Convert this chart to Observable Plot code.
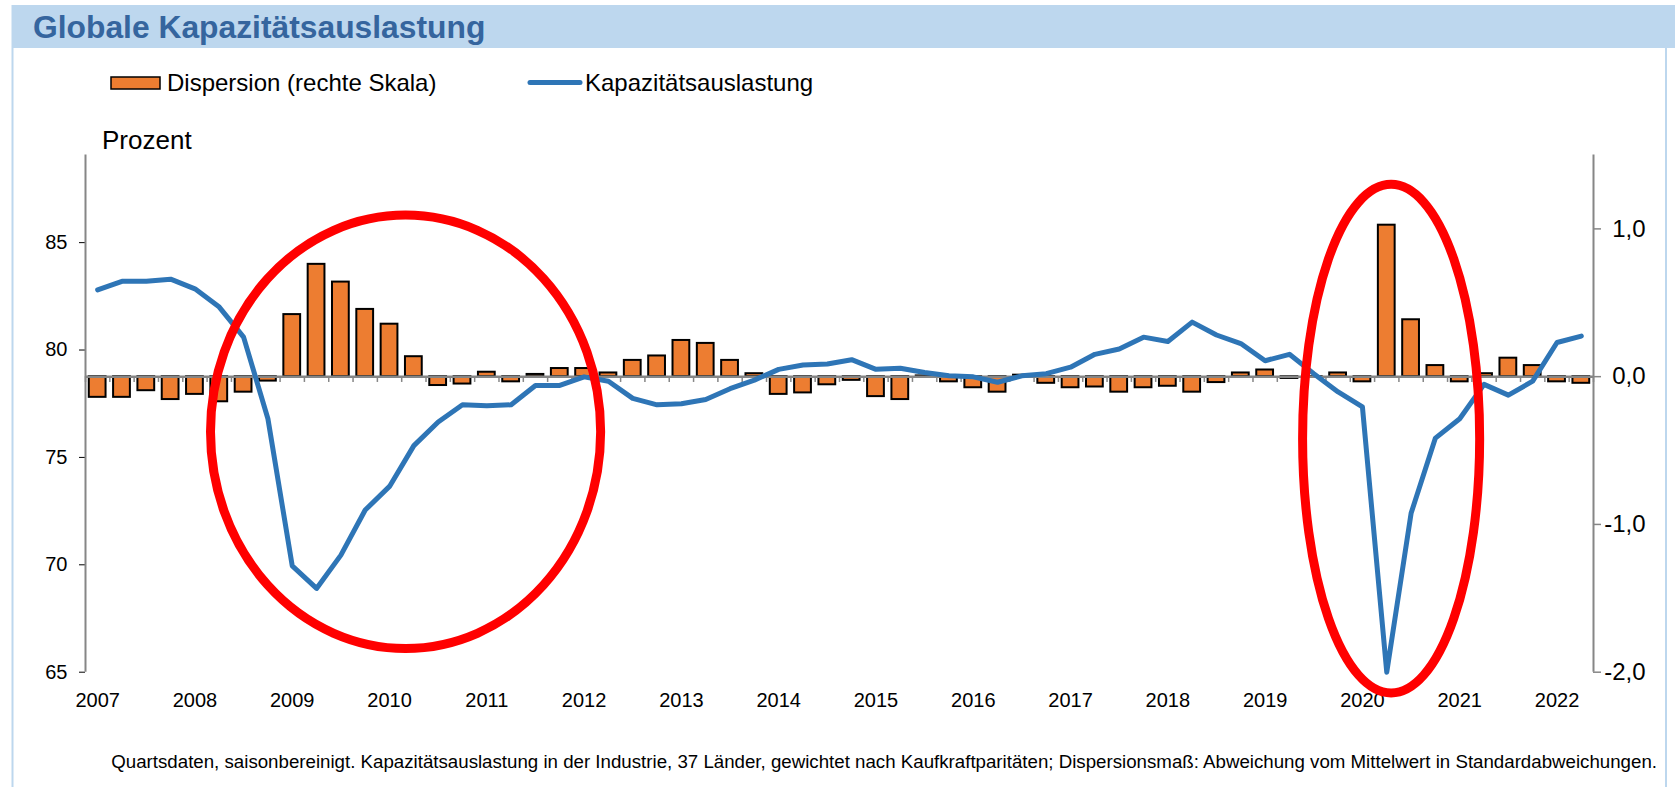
<!DOCTYPE html>
<html>
<head>
<meta charset="utf-8">
<script src="https://cdn.jsdelivr.net/npm/d3@7"></script>
<script src="https://cdn.jsdelivr.net/npm/@observablehq/plot@0.6"></script>
<style>
  html, body { margin: 0; padding: 0; background: #fff; }
  #page { position: relative; width: 1675px; height: 787px; overflow: hidden; font-family: "Liberation Sans", Arial, sans-serif; }
  #deco { position: absolute; left: 0; top: 0; }
  #chart { position: absolute; left: 0; top: 110px; }
  #chart svg [aria-label^="y-axis"] line { stroke: #868686; stroke-width: 1.5px; }
  #chart svg [aria-label^="x-axis"] text, #chart svg [aria-label^="y-axis"] text { font-size: 20px; fill: #000; }
</style>
</head>
<body>
<div id="page">
  <svg id="deco" width="1675" height="787" xmlns="http://www.w3.org/2000/svg" font-family="'Liberation Sans', Arial, sans-serif">
    <rect x="12" y="5" width="1663" height="43" fill="#BDD7EE"></rect>
    <line x1="12.5" y1="5" x2="12.5" y2="787" stroke="#BDD7EE" stroke-width="2"></line>
    <line x1="1666" y1="48" x2="1666" y2="787" stroke="#BDD7EE" stroke-width="2"></line>
    <text x="33" y="38" font-size="31.8" font-weight="bold" fill="#35659E">Globale Kapazitätsauslastung</text>
    <rect x="111" y="77" width="49" height="12" fill="#ED7D31" stroke="#000" stroke-width="1.5"></rect>
    <text x="167" y="91" font-size="24" fill="#000">Dispersion (rechte Skala)</text>
    <line x1="530" y1="82.5" x2="580" y2="82.5" stroke="#2E75B6" stroke-width="5" stroke-linecap="round"></line>
    <text x="585" y="91" font-size="24" fill="#000">Kapazitätsauslastung</text>
    <text x="102" y="149" font-size="26" fill="#000">Prozent</text>
    <text x="1657" y="767.5" font-size="18.7" fill="#000" text-anchor="end">Quartsdaten, saisonbereinigt. Kapazitätsauslastung in der Industrie, 37 Länder, gewichtet nach Kaufkraftparitäten; Dispersionsmaß: Abweichung vom Mittelwert in Standardabweichungen.</text>
  </svg>
  <div id="chart"></div>
</div>
<script>
// ---- data ----
const years = ["2007","2008","2009","2010","2011","2012","2013","2014","2015","2016","2017","2018","2019","2020","2021","2022"];
const quarterNames = ["Q1","Q2","Q3","Q4"];
// Kapazitätsauslastung (Prozent, linke Skala), quarterly 2007 Q1 – 2022 Q2
const capacity = [
  82.8, 83.2, 83.2, 83.3, 82.85, 82.0, 80.6, 76.8, 69.95, 68.9,
  70.45, 72.55, 73.65, 75.55, 76.65, 77.45, 77.4, 77.45, 78.35, 78.35,
  78.75, 78.55, 77.75, 77.45, 77.5, 77.7, 78.2, 78.6, 79.1, 79.3,
  79.35, 79.55, 79.1, 79.15, 78.95, 78.8, 78.75, 78.5, 78.8, 78.9,
  79.2, 79.8, 80.05, 80.6, 80.4, 81.3, 80.7, 80.3, 79.5, 79.8,
  78.9, 78.05, 77.35, 65.0, 72.4, 75.9, 76.8, 78.4, 77.9, 78.55,
  80.35, 80.65
];
// Dispersion (Standardabweichungen, rechte Skala)
const dispersion = [
  -0.14, -0.14, -0.095, -0.155, -0.12, -0.17, -0.105, -0.03, 0.42, 0.76,
  0.64, 0.455, 0.355, 0.135, -0.06, -0.05, 0.03, -0.035, 0.015, 0.055,
  0.055, 0.025, 0.11, 0.14, 0.245, 0.225, 0.11, 0.02, -0.12, -0.11,
  -0.055, -0.025, -0.135, -0.155, 0.005, -0.035, -0.075, -0.105, 0.01, -0.045,
  -0.075, -0.07, -0.105, -0.075, -0.065, -0.105, -0.04, 0.025, 0.045, -0.012,
  -0.005, 0.025, -0.035, 1.025, 0.385, 0.075, -0.035, 0.02, 0.125, 0.075,
  -0.035, -0.045
];
const leftTicks = [65, 70, 75, 80, 85];
const rightTicks = [-2, -1, 0, 1];
// red annotation ellipses (center quarter index, center value on left scale, radii)
const ellipseCenterQ = [12.68, 53.2];
const ellipseCenterV = [76.17, 75.85];
const ellipseRadiusQ = [8.02, 3.64];
const ellipseRadiusV = [10.09, 11.84];

// ---- derived ----
const quarters = years.flatMap(y => quarterNames.map(q => y + " " + q)).slice(0, capacity.length);
const n = quarters.length;
const table = quarters.map((q, i) => ({q, i, cap: capacity[i], disp: dispersion[i]}));
const yearIdx = years.map((y, k) => k * 4);
const boundaries = d3.range(0, n + 1).map(k => k - 0.5);

const Y_MIN = 65, Y_MAX = 89.08, R_MIN = -2, R_MAX = 1.5;
const toLeft = r => Y_MIN + (r - R_MIN) * (Y_MAX - Y_MIN) / (R_MAX - R_MIN);
const zeroL = toLeft(0);
const fmtR = d => d3.format(".1f")(d).replace("−", "-").replace(".", ",");

const GREY = "#868686", ORANGE = "#ED7D31", BLUE = "#2E75B6";

const chart = Plot.plot({
  width: 1675,
  height: 612,
  marginLeft: 85,
  marginRight: 82,
  marginTop: 44.5,
  marginBottom: 50.3,
  style: {fontFamily: '"Liberation Sans", Arial, sans-serif', fontSize: "20px", color: "#000", background: "transparent", overflow: "visible"},
  x: {type: "linear", domain: [-0.5, n - 0.5], ticks: yearIdx, tickFormat: i => years[Math.round(i / 4)], tickSize: 0, tickPadding: 21, label: null},
  y: {domain: [Y_MIN, Y_MAX], ticks: leftTicks, tickSize: 6, tickPadding: 12, label: null, tickFormat: d => String(d)},
  marks: [
    Plot.ruleX([-0.5, n - 0.5], {stroke: GREY, strokeWidth: 2}),
    Plot.ruleX(boundaries, {x: d => d, y1: zeroL, y2: zeroL - 0.27, stroke: GREY, strokeWidth: 1.5}),
    Plot.rect(table, {x1: d => d.i - 0.345, x2: d => d.i + 0.345, y1: zeroL, y2: d => toLeft(d.disp), fill: ORANGE, stroke: "#000", strokeWidth: 2}),
    Plot.ruleY([zeroL], {stroke: GREY, strokeWidth: 2.5}),
    Plot.ruleY(rightTicks, {y: d => toLeft(d), x1: n - 0.5, x2: n - 0.5 + 0.33, stroke: GREY, strokeWidth: 1.5}),
    Plot.text(rightTicks, {x: n - 0.5, y: d => toLeft(d), text: fmtR, textAnchor: "end", dx: 52, fontSize: 24, fill: "#000"}),
    Plot.line(table, {x: "i", y: "cap", stroke: BLUE, strokeWidth: 5, strokeLinejoin: "round", strokeLinecap: "round"})
  ]
});
document.getElementById("chart").appendChild(chart);

// annotation ellipses placed through the plot's own scales
const svgEl = chart.tagName.toLowerCase() === "svg" ? chart : chart.querySelector("svg");
const xs = chart.scale("x"), ys = chart.scale("y");
const fx = d3.scaleLinear().domain(xs.domain).range(xs.range);
const fy = d3.scaleLinear().domain(ys.domain).range(ys.range);
const ns = "http://www.w3.org/2000/svg";
ellipseCenterQ.forEach((cq, k) => {
  const e = document.createElementNS(ns, "ellipse");
  const cx = fx(cq), cy = fy(ellipseCenterV[k]);
  e.setAttribute("cx", cx);
  e.setAttribute("cy", cy);
  e.setAttribute("rx", Math.abs(fx(cq + ellipseRadiusQ[k]) - cx));
  e.setAttribute("ry", Math.abs(fy(ellipseCenterV[k] + ellipseRadiusV[k]) - cy));
  e.setAttribute("fill", "none");
  e.setAttribute("stroke", "#FF0000");
  e.setAttribute("stroke-width", "9");
  svgEl.appendChild(e);
});
</script>
</body>
</html>
